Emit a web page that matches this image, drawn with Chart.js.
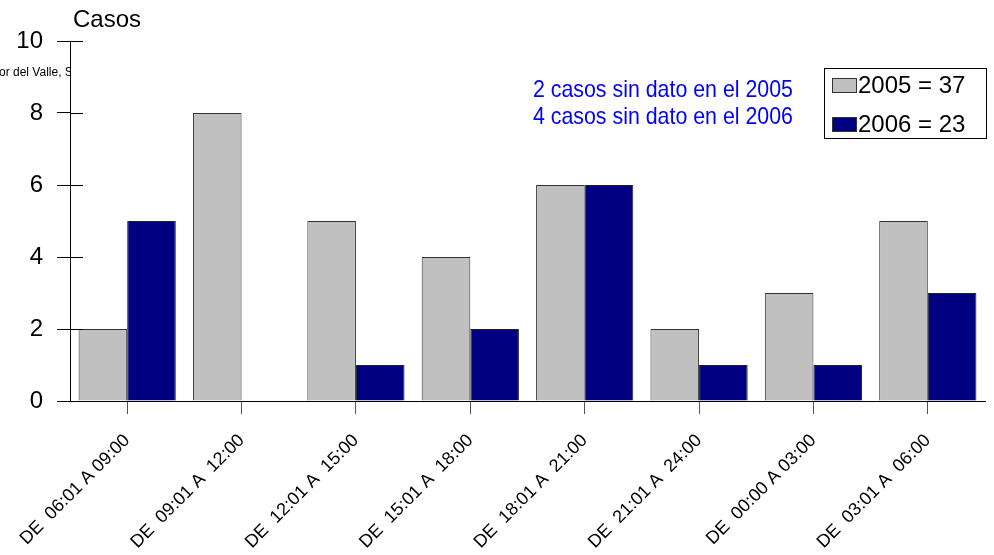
<!DOCTYPE html>
<html lang="es">
<head>
  <meta charset="UTF-8" />
  <title>Casos por horario</title>
  <style>
    html, body { margin: 0; padding: 0; background: #fff; }
    .wrap { width: 994px; height: 555px; position: relative; }
  </style>
</head>
<body>
  <div class="wrap"><canvas id="chart"></canvas></div>

  <script src="https://cdn.jsdelivr.net/npm/chart.js@4.4.1/dist/chart.umd.min.js"></script>
  <script>
    // data
    const horarios = [
      'DE  06:01 A 09:00', 'DE  09:01 A  12:00', 'DE  12:01 A  15:00', 'DE  15:01 A  18:00',
      'DE  18:01 A  21:00', 'DE  21:01 A  24:00', 'DE  00:00 A 03:00', 'DE  03:01 A  06:00'
    ];
    const casos2005 = [2, 8, 5, 4, 6, 2, 3, 5];
    const casos2006 = [5, 0, 1, 2, 6, 1, 1, 3];
    const serieLabels = ['2005 = 37', '2006 = 23'];
    const notas = ['2 casos sin dato en el 2005', '4 casos sin dato en el 2006'];
    const yTicks = [0, 2, 4, 6, 8, 10];

    const FONT = '"Liberation Sans", Arial, Helvetica, sans-serif';

    // extra drawing: inner tick halves, title, notes, legend box, clipped source text
    const extras = {
      id: 'extras',
      afterDraw(chart) {
        const ctx = chart.ctx;
        const y = chart.scales.y;
        const area = chart.chartArea;
        ctx.save();

        // y ticks cross the axis line
        ctx.strokeStyle = '#000';
        ctx.lineWidth = 1;
        yTicks.forEach(v => {
          const py = Math.round(y.getPixelForValue(v)) + 0.5;
          ctx.beginPath();
          ctx.moveTo(area.left, py);
          ctx.lineTo(area.left + 13, py);
          ctx.stroke();
        });

        // axis title
        ctx.fillStyle = '#000';
        ctx.font = '24px ' + FONT;
        ctx.textAlign = 'left';
        ctx.textBaseline = 'alphabetic';
        ctx.fillText('Casos', 73, 27);

        // clipped source note at the left edge
        ctx.save();
        ctx.beginPath();
        ctx.rect(0, 55, area.left, 30);
        ctx.clip();
        ctx.font = '12px ' + FONT;
        ctx.fillStyle = '#000';
        ctx.fillText('or del Valle, Sonora', -1, 76);
        ctx.restore();

        // notes in blue, a narrow face squeezed from the regular one
        ctx.save();
        ctx.fillStyle = '#0000ff';
        ctx.font = '24px ' + FONT;
        ctx.textAlign = 'right';
        ctx.translate(793, 0);
        ctx.scale(0.89, 1);
        ctx.fillText(notas[0], 0, 97);
        ctx.fillText(notas[1], 0, 123.5);
        ctx.restore();

        // legend box
        ctx.strokeStyle = '#000';
        ctx.lineWidth = 1;
        ctx.strokeRect(824.5, 68.5, 162, 70);
        const rows = [85, 124];
        chart.data.datasets.forEach((ds, i) => {
          ctx.fillStyle = ds.backgroundColor;
          ctx.fillRect(832, rows[i] - 7, 25, 15);
          ctx.strokeStyle = '#333';
          ctx.strokeRect(832.5, rows[i] - 6.5, 24, 14);
          ctx.fillStyle = '#000';
          ctx.font = '24px ' + FONT;
          ctx.textAlign = 'left';
          ctx.textBaseline = 'middle';
          ctx.fillText(ds.label, 858, rows[i] + 1);
        });

        ctx.restore();
      }
    };

    new Chart(document.getElementById('chart'), {
      type: 'bar',
      data: {
        labels: horarios,
        datasets: [
          {
            label: serieLabels[0],
            data: casos2005,
            backgroundColor: '#c0c0c0',
            borderColor: '#333333',
            borderWidth: 1
          },
          {
            label: serieLabels[1],
            data: casos2006,
            backgroundColor: '#000080',
            borderColor: '#222222',
            borderWidth: 1
          }
        ]
      },
      options: {
        responsive: true,
        maintainAspectRatio: false,
        animation: false,
        layout: { padding: { left: 0, top: 41, right: 9, bottom: 0 } },
        datasets: { bar: { categoryPercentage: 0.85, barPercentage: 1.0 } },
        plugins: {
          legend: { display: false },
          tooltip: { enabled: false }
        },
        scales: {
          x: {
            afterFit: s => { s.height = 154; },
            grid: {
              offset: false,
              drawOnChartArea: false,
              tickLength: 13,
              color: '#555'
            },
            border: { color: '#000', width: 1 },
            ticks: {
              minRotation: 45,
              maxRotation: 45,
              autoSkip: false,
              padding: 16,
              color: '#000',
              font: { family: FONT, size: 18 }
            }
          },
          y: {
            min: 0,
            max: 10,
            afterFit: s => { s.width = 70; },
            afterBuildTicks: s => { s.ticks = yTicks.map(v => ({ value: v })); },
            grid: {
              drawOnChartArea: false,
              tickLength: 13,
              color: '#000'
            },
            border: { color: '#000', width: 1 },
            ticks: {
              padding: 14,
              color: '#000',
              font: { family: FONT, size: 24 }
            }
          }
        }
      },
      plugins: [extras]
    });
  </script>
</body>
</html>
